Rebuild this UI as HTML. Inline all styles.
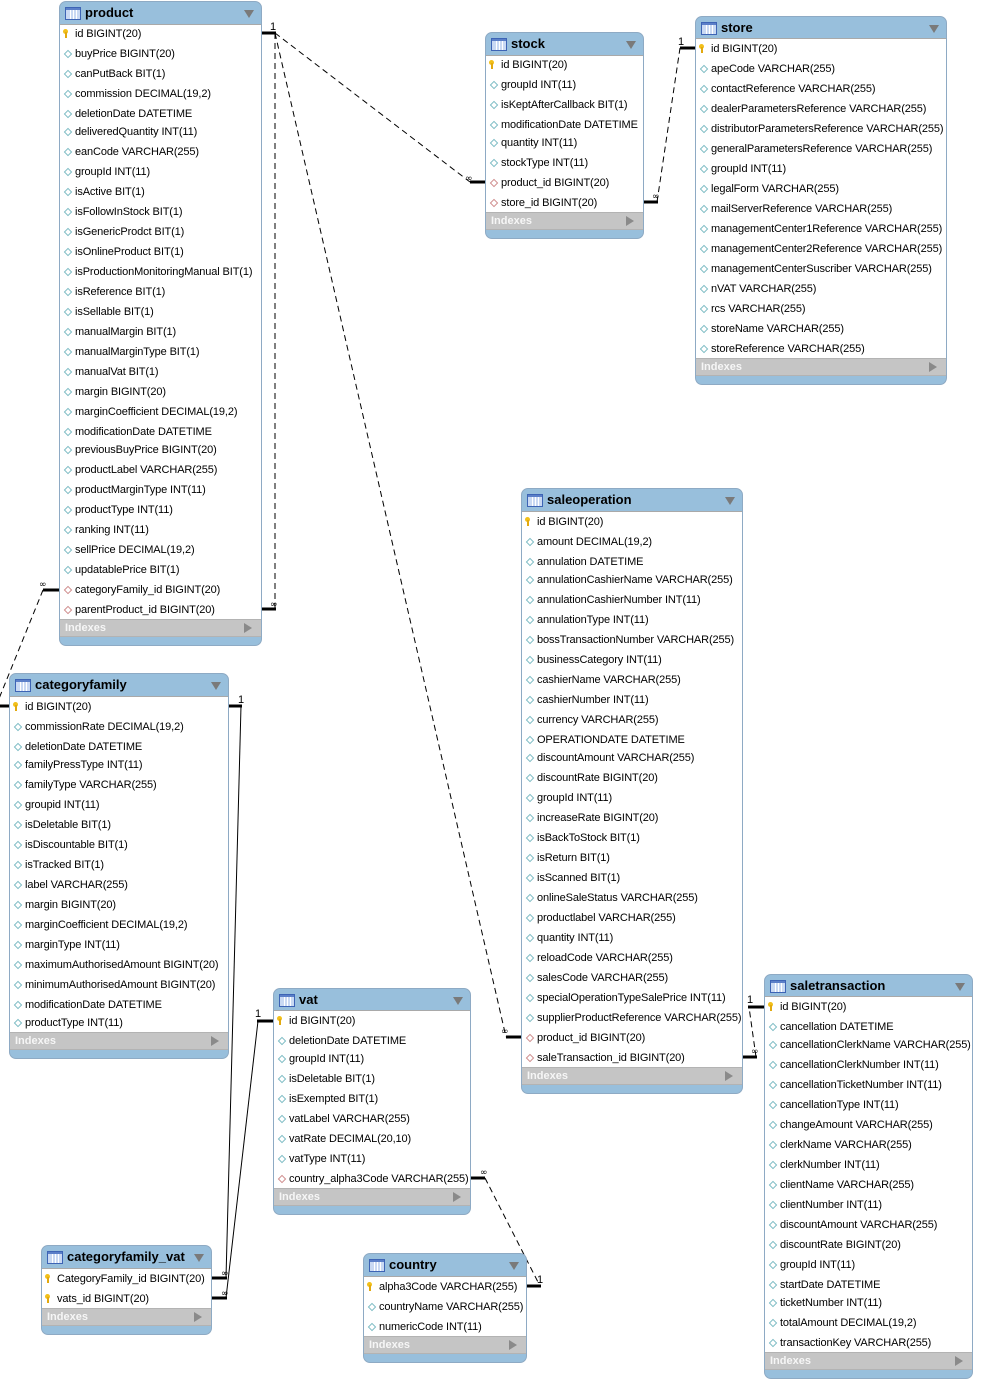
<!DOCTYPE html>
<html><head><meta charset="utf-8">
<style>
body{margin:0;width:1000px;height:1398px;position:relative;background:#fff;font-family:"Liberation Sans",sans-serif;overflow:hidden}
.t{position:absolute;background:#98bfdc;border:1px solid #8eaac4;border-radius:7px;overflow:hidden;box-sizing:border-box}
.hd{position:absolute;left:0;right:0;top:0}
.ic{position:absolute;left:5px;top:5px}
.tt{position:absolute;left:25px;top:0;font-weight:bold;font-size:13px;color:#000}
.tri{position:absolute;right:7px;top:8px;width:0;height:0;border-left:5px solid transparent;border-right:5px solid transparent;border-top:8px solid #7a7a7a}
.bd{position:absolute;left:0;right:0;background:#fff;border-top:1px solid #a9a9a9;box-sizing:border-box}
.ix{position:absolute;left:0;right:0;height:18px;background:#c5c5c5;border-top:1px solid #b3b3b3;border-bottom:1px solid #b3b3b3;box-sizing:border-box;color:#f6f6f6;font-weight:bold;font-size:11px;line-height:16px;padding-left:5px}
.ix::after{content:"";position:absolute;right:9px;top:3px;width:0;height:0;border-top:5px solid transparent;border-bottom:5px solid transparent;border-left:8px solid #8a8a8a}
.rw{position:absolute;top:1px}
.r{position:absolute;left:0;height:20px;line-height:20px;white-space:nowrap;font-size:11px;letter-spacing:-0.12px;color:#000;padding-left:16px}
.k{position:absolute;left:4px;top:5px;width:5px;height:5px;border-radius:50%;background:#f2c01a}
.k::after{content:"";position:absolute;left:1.5px;top:3px;width:2px;height:6px;background:#e2a90f}
.d,.f{position:absolute;left:6px;top:7px;width:4px;height:4px;border:1px solid #7dbcc4;transform:rotate(45deg);background:#fff}
.f{border-color:#cf8d8d}
svg.ln{position:absolute;left:0;top:0}
</style></head><body>

<svg class="ln" width="1000" height="1398">
<g stroke="#000" stroke-width="1" stroke-dasharray="6,4" fill="none">
<line x1="275" y1="33" x2="470" y2="182"/>
<line x1="275" y1="33" x2="275" y2="609"/>
<line x1="275" y1="33" x2="506" y2="1037"/>
<line x1="43" y1="590" x2="-4" y2="706"/>
<line x1="485" y1="1178" x2="540" y2="1286"/>
<line x1="756" y1="1057" x2="749" y2="1007"/>
<line x1="657" y1="202" x2="680" y2="48"/>
</g>
<g stroke="#000" stroke-width="1" fill="none">
<line x1="241" y1="706" x2="226" y2="1278"/>
<line x1="258" y1="1021" x2="226" y2="1298"/>
</g>
<g stroke="#000" stroke-width="3">
<line x1="261" y1="33" x2="276" y2="33"/>
<line x1="470" y1="182" x2="486" y2="182"/>
<line x1="261" y1="609" x2="276" y2="609"/>
<line x1="506" y1="1037" x2="521" y2="1037"/>
<line x1="43" y1="590" x2="59" y2="590"/>
<line x1="0" y1="706" x2="9" y2="706"/>
<line x1="228" y1="706" x2="242" y2="706"/>
<line x1="211" y1="1278" x2="227" y2="1278"/>
<line x1="257" y1="1021" x2="273" y2="1021"/>
<line x1="211" y1="1298" x2="227" y2="1298"/>
<line x1="470" y1="1178" x2="485" y2="1178"/>
<line x1="526" y1="1286" x2="541" y2="1286"/>
<line x1="742" y1="1057" x2="757" y2="1057"/>
<line x1="748" y1="1007" x2="764" y2="1007"/>
<line x1="643" y1="202" x2="658" y2="202"/>
<line x1="680" y1="48" x2="695" y2="48"/>
</g>
<g font-family="Liberation Sans, sans-serif" font-size="11" fill="#000">
<text x="270" y="30">1</text>
<text x="238" y="703">1</text>
<text x="255" y="1017">1</text>
<text x="537" y="1283">1</text>
<text x="747" y="1003">1</text>
<text x="678" y="45">1</text>
</g>
<g font-family="DejaVu Sans, sans-serif" font-size="9" fill="#000">
<text x="465" y="181">∞</text>
<text x="270" y="607">∞</text>
<text x="501" y="1034">∞</text>
<text x="39" y="587">∞</text>
<text x="221" y="1276">∞</text>
<text x="221" y="1296">∞</text>
<text x="480" y="1175">∞</text>
<text x="751" y="1054">∞</text>
<text x="652" y="199">∞</text>
</g>
</svg>

<!-- product -->
<div class="t" style="left:59px;top:1px;width:203px;height:645px">
<div class="hd" style="height:22px"><svg class="ic" width="16" height="13"><rect x="0.5" y="0.5" width="15" height="12" fill="#c9d9f3" stroke="#3d64b5"/><rect x="1" y="1" width="14" height="2" fill="#5b7fc8"/><path d="M5.5 3v9M8.5 3v9M11.5 3v9" stroke="#fff"/></svg><div class="tt" style="line-height:22px">product</div><div class="tri"></div></div>
<div class="bd" style="top:22px;height:596px"></div>
<div class="ix" style="top:617px">Indexes</div>
</div>
<div class="rw" style="left:59px">
<div class="r" style="top:23px"><i class="k"></i>id BIGINT(20)</div>
<div class="r" style="top:43px"><i class="d"></i>buyPrice BIGINT(20)</div>
<div class="r" style="top:63px"><i class="d"></i>canPutBack BIT(1)</div>
<div class="r" style="top:83px"><i class="d"></i>commission DECIMAL(19,2)</div>
<div class="r" style="top:103px"><i class="d"></i>deletionDate DATETIME</div>
<div class="r" style="top:121px"><i class="d"></i>deliveredQuantity INT(11)</div>
<div class="r" style="top:141px"><i class="d"></i>eanCode VARCHAR(255)</div>
<div class="r" style="top:161px"><i class="d"></i>groupId INT(11)</div>
<div class="r" style="top:181px"><i class="d"></i>isActive BIT(1)</div>
<div class="r" style="top:201px"><i class="d"></i>isFollowInStock BIT(1)</div>
<div class="r" style="top:221px"><i class="d"></i>isGenericProdct BIT(1)</div>
<div class="r" style="top:241px"><i class="d"></i>isOnlineProduct BIT(1)</div>
<div class="r" style="top:261px"><i class="d"></i>isProductionMonitoringManual BIT(1)</div>
<div class="r" style="top:281px"><i class="d"></i>isReference BIT(1)</div>
<div class="r" style="top:301px"><i class="d"></i>isSellable BIT(1)</div>
<div class="r" style="top:321px"><i class="d"></i>manualMargin BIT(1)</div>
<div class="r" style="top:341px"><i class="d"></i>manualMarginType BIT(1)</div>
<div class="r" style="top:361px"><i class="d"></i>manualVat BIT(1)</div>
<div class="r" style="top:381px"><i class="d"></i>margin BIGINT(20)</div>
<div class="r" style="top:401px"><i class="d"></i>marginCoefficient DECIMAL(19,2)</div>
<div class="r" style="top:421px"><i class="d"></i>modificationDate DATETIME</div>
<div class="r" style="top:439px"><i class="d"></i>previousBuyPrice BIGINT(20)</div>
<div class="r" style="top:459px"><i class="d"></i>productLabel VARCHAR(255)</div>
<div class="r" style="top:479px"><i class="d"></i>productMarginType INT(11)</div>
<div class="r" style="top:499px"><i class="d"></i>productType INT(11)</div>
<div class="r" style="top:519px"><i class="d"></i>ranking INT(11)</div>
<div class="r" style="top:539px"><i class="d"></i>sellPrice DECIMAL(19,2)</div>
<div class="r" style="top:559px"><i class="d"></i>updatablePrice BIT(1)</div>
<div class="r" style="top:579px"><i class="f"></i>categoryFamily_id BIGINT(20)</div>
<div class="r" style="top:599px"><i class="f"></i>parentProduct_id BIGINT(20)</div>
</div>

<!-- stock -->
<div class="t" style="left:485px;top:32px;width:159px;height:207px">
<div class="hd" style="height:22px"><svg class="ic" width="16" height="13"><rect x="0.5" y="0.5" width="15" height="12" fill="#c9d9f3" stroke="#3d64b5"/><rect x="1" y="1" width="14" height="2" fill="#5b7fc8"/><path d="M5.5 3v9M8.5 3v9M11.5 3v9" stroke="#fff"/></svg><div class="tt" style="line-height:22px">stock</div><div class="tri"></div></div>
<div class="bd" style="top:22px;height:157px"></div>
<div class="ix" style="top:179px">Indexes</div>
</div>
<div class="rw" style="left:485px">
<div class="r" style="top:54px"><i class="k"></i>id BIGINT(20)</div>
<div class="r" style="top:74px"><i class="d"></i>groupId INT(11)</div>
<div class="r" style="top:94px"><i class="d"></i>isKeptAfterCallback BIT(1)</div>
<div class="r" style="top:114px"><i class="d"></i>modificationDate DATETIME</div>
<div class="r" style="top:132px"><i class="d"></i>quantity INT(11)</div>
<div class="r" style="top:152px"><i class="d"></i>stockType INT(11)</div>
<div class="r" style="top:172px"><i class="f"></i>product_id BIGINT(20)</div>
<div class="r" style="top:192px"><i class="f"></i>store_id BIGINT(20)</div>
</div>

<!-- store -->
<div class="t" style="left:695px;top:16px;width:252px;height:369px">
<div class="hd" style="height:21px"><svg class="ic" width="16" height="13"><rect x="0.5" y="0.5" width="15" height="12" fill="#c9d9f3" stroke="#3d64b5"/><rect x="1" y="1" width="14" height="2" fill="#5b7fc8"/><path d="M5.5 3v9M8.5 3v9M11.5 3v9" stroke="#fff"/></svg><div class="tt" style="line-height:21px">store</div><div class="tri"></div></div>
<div class="bd" style="top:21px;height:320px"></div>
<div class="ix" style="top:341px">Indexes</div>
</div>
<div class="rw" style="left:695px">
<div class="r" style="top:38px"><i class="k"></i>id BIGINT(20)</div>
<div class="r" style="top:58px"><i class="d"></i>apeCode VARCHAR(255)</div>
<div class="r" style="top:78px"><i class="d"></i>contactReference VARCHAR(255)</div>
<div class="r" style="top:98px"><i class="d"></i>dealerParametersReference VARCHAR(255)</div>
<div class="r" style="top:118px"><i class="d"></i>distributorParametersReference VARCHAR(255)</div>
<div class="r" style="top:138px"><i class="d"></i>generalParametersReference VARCHAR(255)</div>
<div class="r" style="top:158px"><i class="d"></i>groupId INT(11)</div>
<div class="r" style="top:178px"><i class="d"></i>legalForm VARCHAR(255)</div>
<div class="r" style="top:198px"><i class="d"></i>mailServerReference VARCHAR(255)</div>
<div class="r" style="top:218px"><i class="d"></i>managementCenter1Reference VARCHAR(255)</div>
<div class="r" style="top:238px"><i class="d"></i>managementCenter2Reference VARCHAR(255)</div>
<div class="r" style="top:258px"><i class="d"></i>managementCenterSuscriber VARCHAR(255)</div>
<div class="r" style="top:278px"><i class="d"></i>nVAT VARCHAR(255)</div>
<div class="r" style="top:298px"><i class="d"></i>rcs VARCHAR(255)</div>
<div class="r" style="top:318px"><i class="d"></i>storeName VARCHAR(255)</div>
<div class="r" style="top:338px"><i class="d"></i>storeReference VARCHAR(255)</div>
</div>

<!-- categoryfamily -->
<div class="t" style="left:9px;top:673px;width:220px;height:386px">
<div class="hd" style="height:22px"><svg class="ic" width="16" height="13"><rect x="0.5" y="0.5" width="15" height="12" fill="#c9d9f3" stroke="#3d64b5"/><rect x="1" y="1" width="14" height="2" fill="#5b7fc8"/><path d="M5.5 3v9M8.5 3v9M11.5 3v9" stroke="#fff"/></svg><div class="tt" style="line-height:22px">categoryfamily</div><div class="tri"></div></div>
<div class="bd" style="top:22px;height:336px"></div>
<div class="ix" style="top:358px">Indexes</div>
</div>
<div class="rw" style="left:9px">
<div class="r" style="top:696px"><i class="k"></i>id BIGINT(20)</div>
<div class="r" style="top:716px"><i class="d"></i>commissionRate DECIMAL(19,2)</div>
<div class="r" style="top:736px"><i class="d"></i>deletionDate DATETIME</div>
<div class="r" style="top:754px"><i class="d"></i>familyPressType INT(11)</div>
<div class="r" style="top:774px"><i class="d"></i>familyType VARCHAR(255)</div>
<div class="r" style="top:794px"><i class="d"></i>groupid INT(11)</div>
<div class="r" style="top:814px"><i class="d"></i>isDeletable BIT(1)</div>
<div class="r" style="top:834px"><i class="d"></i>isDiscountable BIT(1)</div>
<div class="r" style="top:854px"><i class="d"></i>isTracked BIT(1)</div>
<div class="r" style="top:874px"><i class="d"></i>label VARCHAR(255)</div>
<div class="r" style="top:894px"><i class="d"></i>margin BIGINT(20)</div>
<div class="r" style="top:914px"><i class="d"></i>marginCoefficient DECIMAL(19,2)</div>
<div class="r" style="top:934px"><i class="d"></i>marginType INT(11)</div>
<div class="r" style="top:954px"><i class="d"></i>maximumAuthorisedAmount BIGINT(20)</div>
<div class="r" style="top:974px"><i class="d"></i>minimumAuthorisedAmount BIGINT(20)</div>
<div class="r" style="top:994px"><i class="d"></i>modificationDate DATETIME</div>
<div class="r" style="top:1012px"><i class="d"></i>productType INT(11)</div>
</div>

<!-- saleoperation -->
<div class="t" style="left:521px;top:488px;width:222px;height:606px">
<div class="hd" style="height:22px"><svg class="ic" width="16" height="13"><rect x="0.5" y="0.5" width="15" height="12" fill="#c9d9f3" stroke="#3d64b5"/><rect x="1" y="1" width="14" height="2" fill="#5b7fc8"/><path d="M5.5 3v9M8.5 3v9M11.5 3v9" stroke="#fff"/></svg><div class="tt" style="line-height:22px">saleoperation</div><div class="tri"></div></div>
<div class="bd" style="top:22px;height:556px"></div>
<div class="ix" style="top:578px">Indexes</div>
</div>
<div class="rw" style="left:521px">
<div class="r" style="top:511px"><i class="k"></i>id BIGINT(20)</div>
<div class="r" style="top:531px"><i class="d"></i>amount DECIMAL(19,2)</div>
<div class="r" style="top:551px"><i class="d"></i>annulation DATETIME</div>
<div class="r" style="top:569px"><i class="d"></i>annulationCashierName VARCHAR(255)</div>
<div class="r" style="top:589px"><i class="d"></i>annulationCashierNumber INT(11)</div>
<div class="r" style="top:609px"><i class="d"></i>annulationType INT(11)</div>
<div class="r" style="top:629px"><i class="d"></i>bossTransactionNumber VARCHAR(255)</div>
<div class="r" style="top:649px"><i class="d"></i>businessCategory INT(11)</div>
<div class="r" style="top:669px"><i class="d"></i>cashierName VARCHAR(255)</div>
<div class="r" style="top:689px"><i class="d"></i>cashierNumber INT(11)</div>
<div class="r" style="top:709px"><i class="d"></i>currency VARCHAR(255)</div>
<div class="r" style="top:729px"><i class="d"></i>OPERATIONDATE DATETIME</div>
<div class="r" style="top:747px"><i class="d"></i>discountAmount VARCHAR(255)</div>
<div class="r" style="top:767px"><i class="d"></i>discountRate BIGINT(20)</div>
<div class="r" style="top:787px"><i class="d"></i>groupId INT(11)</div>
<div class="r" style="top:807px"><i class="d"></i>increaseRate BIGINT(20)</div>
<div class="r" style="top:827px"><i class="d"></i>isBackToStock BIT(1)</div>
<div class="r" style="top:847px"><i class="d"></i>isReturn BIT(1)</div>
<div class="r" style="top:867px"><i class="d"></i>isScanned BIT(1)</div>
<div class="r" style="top:887px"><i class="d"></i>onlineSaleStatus VARCHAR(255)</div>
<div class="r" style="top:907px"><i class="d"></i>productlabel VARCHAR(255)</div>
<div class="r" style="top:927px"><i class="d"></i>quantity INT(11)</div>
<div class="r" style="top:947px"><i class="d"></i>reloadCode VARCHAR(255)</div>
<div class="r" style="top:967px"><i class="d"></i>salesCode VARCHAR(255)</div>
<div class="r" style="top:987px"><i class="d"></i>specialOperationTypeSalePrice INT(11)</div>
<div class="r" style="top:1007px"><i class="d"></i>supplierProductReference VARCHAR(255)</div>
<div class="r" style="top:1027px"><i class="f"></i>product_id BIGINT(20)</div>
<div class="r" style="top:1047px"><i class="f"></i>saleTransaction_id BIGINT(20)</div>
</div>

<!-- vat -->
<div class="t" style="left:273px;top:988px;width:198px;height:227px">
<div class="hd" style="height:21px"><svg class="ic" width="16" height="13"><rect x="0.5" y="0.5" width="15" height="12" fill="#c9d9f3" stroke="#3d64b5"/><rect x="1" y="1" width="14" height="2" fill="#5b7fc8"/><path d="M5.5 3v9M8.5 3v9M11.5 3v9" stroke="#fff"/></svg><div class="tt" style="line-height:21px">vat</div><div class="tri"></div></div>
<div class="bd" style="top:21px;height:178px"></div>
<div class="ix" style="top:199px">Indexes</div>
</div>
<div class="rw" style="left:273px">
<div class="r" style="top:1010px"><i class="k"></i>id BIGINT(20)</div>
<div class="r" style="top:1030px"><i class="d"></i>deletionDate DATETIME</div>
<div class="r" style="top:1048px"><i class="d"></i>groupId INT(11)</div>
<div class="r" style="top:1068px"><i class="d"></i>isDeletable BIT(1)</div>
<div class="r" style="top:1088px"><i class="d"></i>isExempted BIT(1)</div>
<div class="r" style="top:1108px"><i class="d"></i>vatLabel VARCHAR(255)</div>
<div class="r" style="top:1128px"><i class="d"></i>vatRate DECIMAL(20,10)</div>
<div class="r" style="top:1148px"><i class="d"></i>vatType INT(11)</div>
<div class="r" style="top:1168px"><i class="f"></i>country_alpha3Code VARCHAR(255)</div>
</div>

<!-- categoryfamily_vat -->
<div class="t" style="left:41px;top:1245px;width:171px;height:90px">
<div class="hd" style="height:22px"><svg class="ic" width="16" height="13"><rect x="0.5" y="0.5" width="15" height="12" fill="#c9d9f3" stroke="#3d64b5"/><rect x="1" y="1" width="14" height="2" fill="#5b7fc8"/><path d="M5.5 3v9M8.5 3v9M11.5 3v9" stroke="#fff"/></svg><div class="tt" style="line-height:22px">categoryfamily_vat</div><div class="tri"></div></div>
<div class="bd" style="top:22px;height:40px"></div>
<div class="ix" style="top:62px">Indexes</div>
</div>
<div class="rw" style="left:41px">
<div class="r" style="top:1268px"><i class="k"></i>CategoryFamily_id BIGINT(20)</div>
<div class="r" style="top:1288px"><i class="k"></i>vats_id BIGINT(20)</div>
</div>

<!-- country -->
<div class="t" style="left:363px;top:1253px;width:164px;height:110px">
<div class="hd" style="height:22px"><svg class="ic" width="16" height="13"><rect x="0.5" y="0.5" width="15" height="12" fill="#c9d9f3" stroke="#3d64b5"/><rect x="1" y="1" width="14" height="2" fill="#5b7fc8"/><path d="M5.5 3v9M8.5 3v9M11.5 3v9" stroke="#fff"/></svg><div class="tt" style="line-height:22px">country</div><div class="tri"></div></div>
<div class="bd" style="top:22px;height:60px"></div>
<div class="ix" style="top:82px">Indexes</div>
</div>
<div class="rw" style="left:363px">
<div class="r" style="top:1276px"><i class="k"></i>alpha3Code VARCHAR(255)</div>
<div class="r" style="top:1296px"><i class="d"></i>countryName VARCHAR(255)</div>
<div class="r" style="top:1316px"><i class="d"></i>numericCode INT(11)</div>
</div>

<!-- saletransaction -->
<div class="t" style="left:764px;top:974px;width:209px;height:405px">
<div class="hd" style="height:21px"><svg class="ic" width="16" height="13"><rect x="0.5" y="0.5" width="15" height="12" fill="#c9d9f3" stroke="#3d64b5"/><rect x="1" y="1" width="14" height="2" fill="#5b7fc8"/><path d="M5.5 3v9M8.5 3v9M11.5 3v9" stroke="#fff"/></svg><div class="tt" style="line-height:21px">saletransaction</div><div class="tri"></div></div>
<div class="bd" style="top:21px;height:356px"></div>
<div class="ix" style="top:377px">Indexes</div>
</div>
<div class="rw" style="left:764px">
<div class="r" style="top:996px"><i class="k"></i>id BIGINT(20)</div>
<div class="r" style="top:1016px"><i class="d"></i>cancellation DATETIME</div>
<div class="r" style="top:1034px"><i class="d"></i>cancellationClerkName VARCHAR(255)</div>
<div class="r" style="top:1054px"><i class="d"></i>cancellationClerkNumber INT(11)</div>
<div class="r" style="top:1074px"><i class="d"></i>cancellationTicketNumber INT(11)</div>
<div class="r" style="top:1094px"><i class="d"></i>cancellationType INT(11)</div>
<div class="r" style="top:1114px"><i class="d"></i>changeAmount VARCHAR(255)</div>
<div class="r" style="top:1134px"><i class="d"></i>clerkName VARCHAR(255)</div>
<div class="r" style="top:1154px"><i class="d"></i>clerkNumber INT(11)</div>
<div class="r" style="top:1174px"><i class="d"></i>clientName VARCHAR(255)</div>
<div class="r" style="top:1194px"><i class="d"></i>clientNumber INT(11)</div>
<div class="r" style="top:1214px"><i class="d"></i>discountAmount VARCHAR(255)</div>
<div class="r" style="top:1234px"><i class="d"></i>discountRate BIGINT(20)</div>
<div class="r" style="top:1254px"><i class="d"></i>groupId INT(11)</div>
<div class="r" style="top:1274px"><i class="d"></i>startDate DATETIME</div>
<div class="r" style="top:1292px"><i class="d"></i>ticketNumber INT(11)</div>
<div class="r" style="top:1312px"><i class="d"></i>totalAmount DECIMAL(19,2)</div>
<div class="r" style="top:1332px"><i class="d"></i>transactionKey VARCHAR(255)</div>
</div>

</body></html>
